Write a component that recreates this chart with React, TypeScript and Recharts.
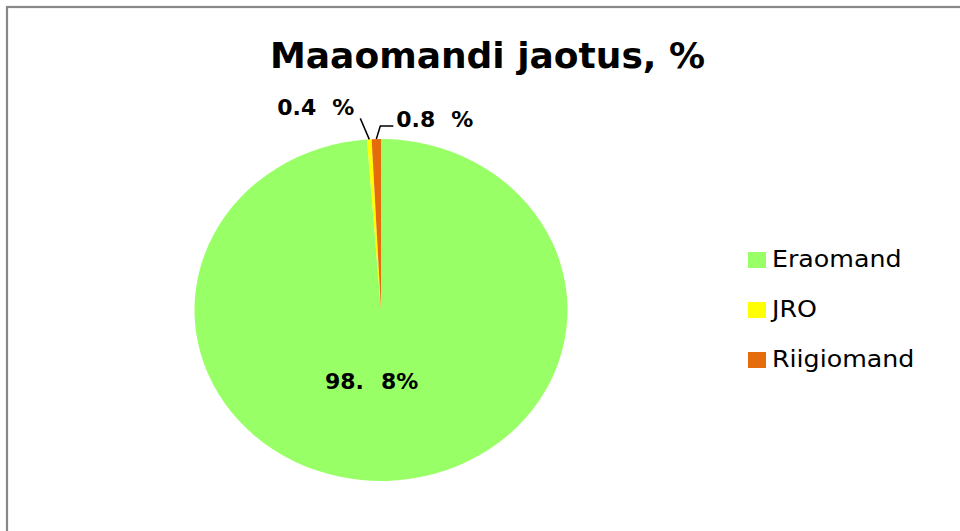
import React from 'react';
import { PieChart, Pie, Cell, Legend } from 'recharts';

const categories = ['Eraomand', 'JRO', 'Riigiomand'];
const shares = [98.8, 0.4, 0.8];
const colors = ['#99FF66', '#FFFF00', '#E46C0A'];
const title = 'Maaomandi jaotus, %';

const data = categories.map((name, i) => ({ name, value: shares[i] }));

const CX = 381;
const CY = 310;
const RY = 171;
const RX = 186.5;
const SX = RX / RY;
const FONT = '"DejaVu Sans", sans-serif';

const RAD = Math.PI / 180;

function renderLabel(props: any) {
  const { cx, cy, midAngle, outerRadius, value, index } = props;
  const [intPart, decPart] = Number(value).toFixed(1).split('.');
  const ex = cx + outerRadius * SX * Math.cos(-midAngle * RAD);
  const ey = cy + outerRadius * Math.sin(-midAngle * RAD);
  const common = {
    fontFamily: FONT,
    fontWeight: 700,
    fontSize: 22,
    fill: '#000',
  };
  if (index === 0) {
    return (
      <text key="l0" x={cx - 56} y={cy + 79} textAnchor="start" {...common}>
        {`${intPart}.`}
        <tspan dx={17}>{`${decPart}%`}</tspan>
      </text>
    );
  }
  if (index === 1) {
    const p1x = ex - 9;
    const p1y = ey - 21;
    return (
      <g key="l1">
        <polyline points={`${ex},${ey} ${p1x},${p1y}`} fill="none" stroke="#000" strokeWidth={1.5} />
        <text x={p1x - 83} y={p1y - 3} textAnchor="start" {...common}>
          {`${intPart}.${decPart}`}
          <tspan dx={16}>%</tspan>
        </text>
      </g>
    );
  }
  const p1x = ex + 4;
  const p1y = ey - 13;
  const p2x = p1x + 13;
  return (
    <g key="l2">
      <polyline points={`${ex},${ey} ${p1x},${p1y} ${p2x},${p1y}`} fill="none" stroke="#000" strokeWidth={1.5} />
      <text x={p2x + 3} y={p1y + 1} textAnchor="start" {...common}>
        {`${intPart}.${decPart}`}
        <tspan dx={16}>%</tspan>
      </text>
    </g>
  );
}

function LegendContent(props: any) {
  const payload = props.payload || [];
  return (
    <svg width={220} height={150} style={{ display: 'block', overflow: 'visible' }}>
      {payload.map((entry: any, i: number) => (
        <g key={i}>
          <rect x={8} y={12 + i * 50} width={18} height={16} fill={entry.color} />
          <text
            x={0}
            y={0}
            transform={`translate(32, ${27 + i * 50}) scale(1.1, 1)`}
            fontFamily={FONT}
            fontSize={23}
            fill="#000"
          >
            {entry.value}
          </text>
        </g>
      ))}
    </svg>
  );
}

export default function App() {
  return (
    <div style={{ position: 'absolute', left: 0, top: 0, width: 960, height: 531, background: '#fff', overflow: 'hidden' }}>
      <style>{`.ell-pie .recharts-pie-sector{transform-origin:${CX}px ${CY}px;transform:scaleX(${SX});}`}</style>
      <PieChart width={960} height={531} margin={{ top: 0, right: 0, bottom: 0, left: 0 }}>
        <rect x={7} y={7} width={1000} height={600} fill="none" stroke="#888888" strokeWidth={2.2} />
        <text x={270} y={68} fontFamily={FONT} fontWeight={700} fontSize={36} fill="#000" textAnchor="start">
          {title}
        </text>
        <Pie
          className="ell-pie"
          data={data}
          dataKey="value"
          nameKey="name"
          cx={CX}
          cy={CY}
          outerRadius={RY}
          startAngle={90}
          endAngle={-270}
          stroke="none"
          label={renderLabel}
          labelLine={false}
          isAnimationActive={false}
        >
          {data.map((d, i) => (
            <Cell key={d.name} fill={colors[i]} stroke="none" />
          ))}
        </Pie>
        <Legend
          layout="vertical"
          align="right"
          verticalAlign="middle"
          content={LegendContent}
          wrapperStyle={{ left: 740, top: 240, right: 'auto', width: 220, height: 150 }}
        />
      </PieChart>
    </div>
  );
}
